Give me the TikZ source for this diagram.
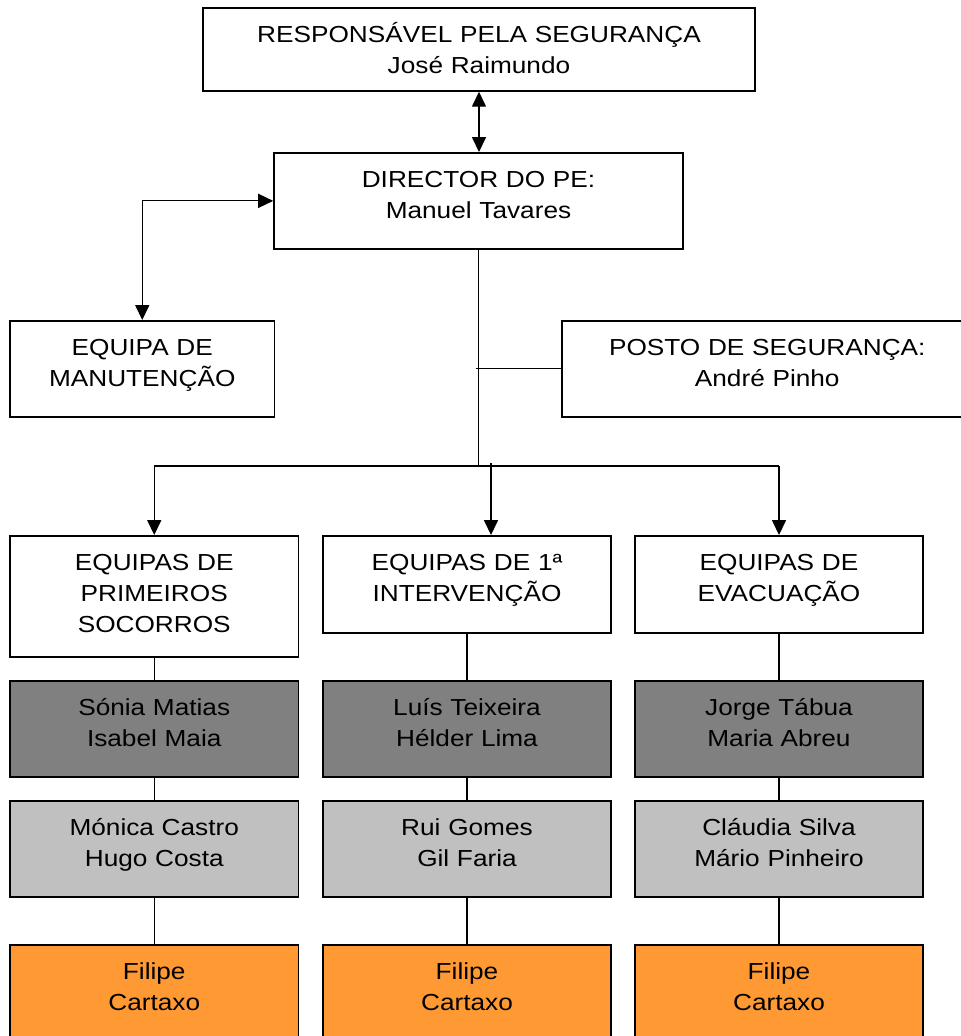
\documentclass[tikz,border=0pt]{standalone}
\usepackage{fontspec}
\setmainfont{Liberation Sans}[FakeStretch=1.13]
\usetikzlibrary{arrows.meta}

\definecolor{darkbox}{RGB}{128,128,128}
\definecolor{lightbox}{RGB}{192,192,192}
\definecolor{orangebox}{RGB}{255,153,51}

\begin{document}
\begin{tikzpicture}[x=0.02cm, y=-0.02cm,
    box/.style={rectangle, draw, line width=1pt, inner sep=0pt, align=center, anchor=north,
        text height=0.7cm, font=\fontsize{13.2pt}{17.4pt}\selectfont},
    conn/.style={line width=0.7pt},
    tip/.style={line width=0.7pt, -{Triangle[length=8.5pt, width=8pt]}},
    both/.style={line width=0.7pt, {Triangle[length=8.5pt, width=8pt]}-{Triangle[length=8.5pt, width=8pt]}}]

    \useasboundingbox (0,0) rectangle (961,1036);

    % top of the chart
    \node (resp) [box, text width=11.04cm, text depth=0.96cm] at (479,7) {RESPONSÁVEL PELA SEGURANÇA\\José Raimundo};
    \node (dir) [box, text width=8.18cm, text depth=1.22cm] at (478.5,152) {DIRECTOR DO PE:\\Manuel Tavares};
    \node (manut) [box, text width=5.29cm, text depth=1.22cm] at (142.25,320) {EQUIPA DE\\MANUTENÇÃO};
    \node (posto) [box, text width=8.2cm, text depth=1.22cm] at (767.25,320) {POSTO DE SEGURANÇA:\\André Pinho};

    % team boxes
    \node (socorros) [box, text width=5.77cm, text depth=1.72cm] at (154.25,535) {EQUIPAS DE\\PRIMEIROS\\SOCORROS};
    \node (interv) [box, text width=5.77cm, text depth=1.24cm] at (467,535) {EQUIPAS DE 1ª\\INTERVENÇÃO};
    \node (evac) [box, text width=5.77cm, text depth=1.24cm] at (779,535) {EQUIPAS DE\\EVACUAÇÃO};

    % first names (dark grey)
    \node (socorrosA) [box, fill=darkbox, text width=5.77cm, text depth=1.22cm] at (154.25,680) {Sónia Matias\\Isabel Maia};
    \node (intervA) [box, fill=darkbox, text width=5.77cm, text depth=1.22cm] at (467,680) {Luís Teixeira\\Hélder Lima};
    \node (evacA) [box, fill=darkbox, text width=5.77cm, text depth=1.22cm] at (779,680) {Jorge Tábua\\Maria Abreu};

    % second names (light grey)
    \node (socorrosB) [box, fill=lightbox, text width=5.77cm, text depth=1.22cm] at (154.25,800) {Mónica Castro\\Hugo Costa};
    \node (intervB) [box, fill=lightbox, text width=5.77cm, text depth=1.22cm] at (467,800) {Rui Gomes\\Gil Faria};
    \node (evacB) [box, fill=lightbox, text width=5.77cm, text depth=1.22cm] at (779,800) {Cláudia Silva\\Mário Pinheiro};

    % last row (orange)
    \node (socorrosC) [box, fill=orangebox, text width=5.77cm, text depth=1.22cm] at (154.25,944) {Filipe\\Cartaxo};
    \node (intervC) [box, fill=orangebox, text width=5.77cm, text depth=1.22cm] at (467,944) {Filipe\\Cartaxo};
    \node (evacC) [box, fill=orangebox, text width=5.77cm, text depth=1.22cm] at (779,944) {Filipe\\Cartaxo};

    \coordinate (bar) at (479,466);
    \coordinate (mid) at (491,463);

    % arrows from the top
    \draw[both] (resp.south) -- (resp.south |- dir.north);
    \draw[both] (dir.west) -| (manut.north);
    \draw[conn] (dir.south) -- (dir.south |- bar);
    \draw[conn] ([xshift=-0.06cm]dir.south |- posto.west) -- (posto.west);
    \draw[conn] (socorros.north |- bar) -- (evac.north |- bar);
    \draw[tip] (socorros.north |- bar) -- (socorros.north);
    \draw[tip] (mid) -- (mid |- interv.north);
    \draw[tip] (evac.north |- bar) -- (evac.north);

    % lines down each column
    \draw[conn] (socorros.south) -- (socorrosA.north);
    \draw[conn] (socorrosA.south) -- (socorrosB.north);
    \draw[conn] (socorrosB.south) -- (socorrosC.north);
    \draw[conn] (interv.south) -- (intervA.north);
    \draw[conn] (intervA.south) -- (intervB.north);
    \draw[conn] (intervB.south) -- (intervC.north);
    \draw[conn] (evac.south) -- (evacA.north);
    \draw[conn] (evacA.south) -- (evacB.north);
    \draw[conn] (evacB.south) -- (evacC.north);

\end{tikzpicture}
\end{document}
